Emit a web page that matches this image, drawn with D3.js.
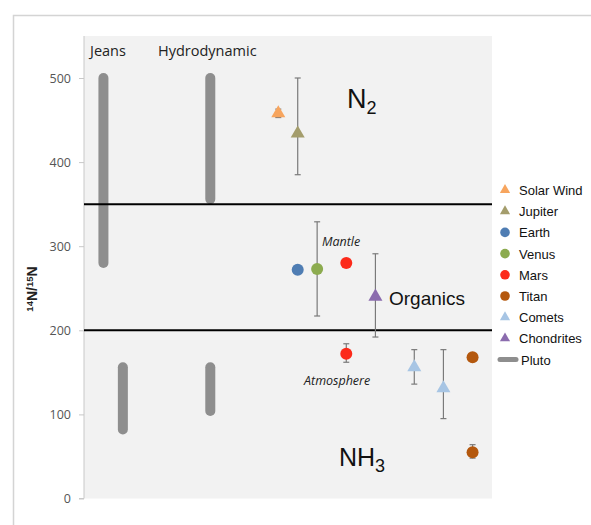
<!DOCTYPE html>
<html>
<head>
<meta charset="utf-8">
<script src="https://cdn.jsdelivr.net/npm/d3@7"></script>
<style>
  body { margin: 0; background: #fff; }
  svg text { font-family: "Liberation Sans", Arial, sans-serif; }
</style>
</head>
<body>
<div id="chart"></div>
<script>
// pluto escape ranges (grey bars): x position, low, high
const plutoX = [2, 13, 4, 13];
const plutoLow = [280, 356, 82, 104];
const plutoHigh = [500, 500, 156, 156];

// measured points
const pointNames = ["Solar Wind", "Jupiter", "Earth", "Venus", "Mars", "Chondrites", "Mars", "Comets", "Comets", "Titan", "Titan"];
const pointX = [20, 22, 22, 24, 27, 30, 27, 34, 37, 40, 40];
const pointY = [458, 434, 272, 273, 280, 240, 172, 156, 131, 168, 55];
const errLow = [453, 385, null, 217, null, 192, 162, 136, 95, null, 48];
const errHigh = [463, 500, null, 329, null, 291, 184, 177, 177, null, 64];

const legendNames = ["Solar Wind", "Jupiter", "Earth", "Venus", "Mars", "Titan", "Comets", "Chondrites"];
const legendColors = ["#f7a55e", "#a49d6c", "#4f7db3", "#8cab4f", "#fc2a1a", "#b4580e", "#a7c5e4", "#8b6cae"];
const legendShapes = ["tri", "tri", "dot", "dot", "dot", "dot", "tri", "tri"];

const yTicks = [0, 100, 200, 300, 400, 500];
const boundaries = [350, 200];

(function () {
  const W = 591, H = 525;
  const svg = d3.select("#chart").append("svg").attr("width", W).attr("height", H);

  // outer frame
  svg.append("path").attr("d", "M13.5,525 V15.5 H591")
    .attr("fill", "none").attr("stroke", "#d4d4d4").attr("stroke-width", 1.5);

  const x = d3.scaleLinear().domain([0, 42]).range([84, 492]);
  const y = d3.scaleLinear().domain([0, 500]).range([498.5, 78]);
  const color = d3.scaleOrdinal().domain(legendNames).range(legendColors);
  const shape = d3.scaleOrdinal().domain(legendNames).range(legendShapes);

  svg.append("rect").attr("x", 84).attr("y", 36).attr("width", 408).attr("height", 462.5)
    .attr("fill", "#f2f2f2");

  // y axis
  const yAxis = d3.axisLeft(y).tickValues(yTicks).tickSize(5).tickPadding(8);
  const ga = svg.append("g").attr("transform", "translate(84,0)").call(yAxis);
  ga.select(".domain").attr("d", "M-5,498.5 H0 V36").attr("stroke", "#c8c8c8");
  ga.selectAll(".tick line").attr("stroke", "#c8c8c8");
  ga.selectAll(".tick text").attr("fill", "#555").style("font-family", "'Open Sans', sans-serif").style("font-size", "12.5px");

  // axis title
  const t = svg.append("text").attr("transform", "translate(37,289) rotate(-90)")
    .attr("text-anchor", "middle").attr("font-weight", "bold").attr("font-size", 14).attr("fill", "#222");
  t.append("tspan").attr("font-size", 9.5).attr("dy", -4).text("14");
  t.append("tspan").attr("dy", 4).text("N/");
  t.append("tspan").attr("font-size", 9.5).attr("dy", -4).text("15");
  t.append("tspan").attr("dy", 4).text("N");

  // category labels
  svg.append("text").attr("x", 90).attr("y", 56).attr("font-size", 14.5).attr("fill", "#222")
    .style("font-family", "'Open Sans', sans-serif").text("Jeans");
  svg.append("text").attr("x", 158).attr("y", 56).attr("font-size", 14.5).attr("fill", "#222")
    .style("font-family", "'Open Sans', sans-serif").text("Hydrodynamic");

  // pluto bars
  svg.selectAll(".pluto").data(plutoX).enter().append("line")
    .attr("x1", d => x(d)).attr("x2", d => x(d))
    .attr("y1", (d, i) => y(plutoLow[i])).attr("y2", (d, i) => y(plutoHigh[i]))
    .attr("stroke", "#8e8e8e").attr("stroke-width", 10).attr("stroke-linecap", "round");

  // boundaries
  svg.selectAll(".bound").data(boundaries).enter().append("line")
    .attr("x1", 84).attr("x2", 492).attr("y1", d => y(d)).attr("y2", d => y(d))
    .attr("stroke", "#000").attr("stroke-width", 2);

  // error bars
  const eb = pointX.map((d, i) => i).filter(i => errLow[i] != null);
  const g = svg.append("g").attr("stroke", "#7a7a7a").attr("stroke-width", 1.2);
  eb.forEach(i => {
    const cx = x(pointX[i]);
    g.append("line").attr("x1", cx).attr("x2", cx).attr("y1", y(errLow[i])).attr("y2", y(errHigh[i]));
    [errLow[i], errHigh[i]].forEach(v => g.append("line")
      .attr("x1", cx - 3).attr("x2", cx + 3).attr("y1", y(v)).attr("y2", y(v)));
  });

  const tri = d3.symbol().type(d3.symbolTriangle).size(85);
  const marks = svg.append("g");
  pointNames.forEach((n, i) => {
    const cx = x(pointX[i]), cy = y(pointY[i]);
    if (shape(n) === "tri") {
      marks.append("path").attr("d", tri()).attr("transform", `translate(${cx},${cy})`).attr("fill", color(n));
    } else {
      marks.append("circle").attr("cx", cx).attr("cy", cy).attr("r", 6).attr("fill", color(n));
    }
  });

  // region labels
  const n2 = svg.append("text").attr("x", 347).attr("y", 108).attr("font-size", 27).attr("fill", "#111");
  n2.append("tspan").text("N");
  n2.append("tspan").attr("font-size", 18).attr("dy", 6).text("2");
  svg.append("text").attr("x", 389).attr("y", 305).attr("font-size", 19).attr("fill", "#111").text("Organics");
  const nh3 = svg.append("text").attr("x", 339).attr("y", 466).attr("font-size", 25).attr("fill", "#111");
  nh3.append("tspan").text("NH");
  nh3.append("tspan").attr("font-size", 18).attr("dy", 6).text("3");

  svg.append("text").attr("x", 322).attr("y", 246).attr("font-size", 12.5).attr("font-style", "italic")
    .style("font-family", "'Open Sans', sans-serif").attr("fill", "#222").text("Mantle");
  svg.append("text").attr("x", 304).attr("y", 385).attr("font-size", 12.5).attr("font-style", "italic")
    .style("font-family", "'Open Sans', sans-serif").attr("fill", "#222").text("Atmosphere");

  // legend
  const lg = svg.append("g").attr("transform", "translate(505,190)");
  legendNames.forEach((n, i) => {
    const row = lg.append("g").attr("transform", `translate(0,${i * 21.2})`);
    if (shape(n) === "tri") row.append("path").attr("d", d3.symbol().type(d3.symbolTriangle).size(45)()).attr("fill", color(n));
    else row.append("circle").attr("r", 4.8).attr("fill", color(n));
    row.append("text").attr("x", 14).attr("y", 5).attr("font-size", 13).attr("fill", "#111").text(n);
  });
  const pr = lg.append("g").attr("transform", `translate(0,${8 * 21.2})`);
  pr.append("line").attr("x1", -5).attr("x2", 11).attr("stroke", "#8e8e8e").attr("stroke-width", 5).attr("stroke-linecap", "round");
  pr.append("text").attr("x", 16).attr("y", 5).attr("font-size", 13).attr("fill", "#111").text("Pluto");
})();
</script>
</body>
</html>
